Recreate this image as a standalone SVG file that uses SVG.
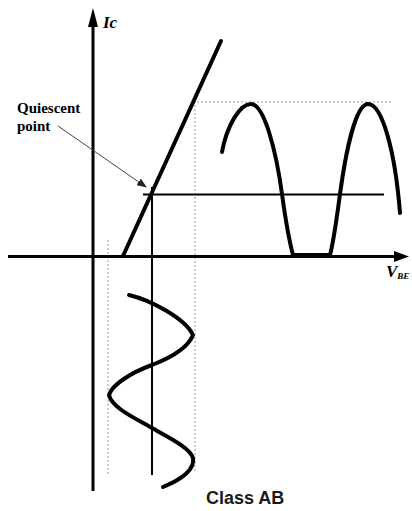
<svg xmlns="http://www.w3.org/2000/svg" width="412" height="511" viewBox="0 0 412 511">
<style>
.ax{stroke:#000;stroke-width:3;fill:none}
.thick{stroke:#000;stroke-width:4;fill:none;stroke-linecap:round;stroke-linejoin:round}
.thin{stroke:#000;stroke-width:2;fill:none}
.dot{stroke:#999;stroke-width:1;stroke-dasharray:2 2;fill:none}
.lbl{font-family:"Liberation Serif",serif;font-weight:bold;fill:#000}
.it{font-style:italic}
</style>
<defs>
<marker id="ah" markerWidth="10" markerHeight="8" refX="9" refY="4" orient="auto" markerUnits="userSpaceOnUse">
<path d="M0,0 L10,4 L0,8 Z" fill="#222"/>
</marker>
</defs>
<rect width="412" height="511" fill="#fff"/>
<g id="guides">
<line class="dot" x1="193" y1="102" x2="393" y2="102"/>
<line class="dot" x1="195" y1="93" x2="195" y2="472"/>
<line class="dot" x1="108" y1="240" x2="108" y2="475"/>
</g>
<g id="axes">
<line class="ax" x1="93" y1="24" x2="93" y2="491"/>
<path d="M93,8 L98,27 L88,27 Z" fill="#000"/>
<line class="ax" x1="8" y1="256.5" x2="396" y2="256.5"/>
<path d="M409,256.5 L394,251 L394,262 Z" fill="#000"/>
<text id="ic" class="lbl it" x="103" y="28" font-size="17">Ic</text>
<text id="vbe" class="lbl it" x="386" y="277" font-size="17">V<tspan font-size="9" dy="2">BE</tspan></text>
</g>
<g id="load-line">
<line class="thick" x1="123" y1="256" x2="221" y2="41" stroke-linecap="butt"/>
</g>
<g id="quiescent">
<line class="thin" x1="143" y1="194.5" x2="384" y2="194.5"/>
<line class="thin" x1="152" y1="187" x2="152" y2="475"/>
<text class="lbl" x="17" y="113" font-size="15">Quiescent</text>
<text class="lbl" x="17" y="131" font-size="15">point</text>
</g>
<g id="connectors">
<line x1="58" y1="126" x2="146" y2="187" stroke="#444" stroke-width="1" marker-end="url(#ah)"/>
</g>
<g id="output-wave">
<path class="thick" d="M222,152 C227,125 240,104 251,104 C264,104 276,150 282,194 C285,216 289,240 293,255 L330,255 C334,240 337,216 340,194 C346,150 356,104 368,104 C382,104 395,150 400,213"/>
</g>
<g id="input-wave">
<path class="thick" d="M129,295 C150,300 185,318 193,335 C188,348 170,358 152,365 C130,373 112,385 109,395 C112,408 135,418 152,428 C170,438 190,448 193,458 C195,470 180,480 163,487"/>
</g>
<g id="title">
<text x="206" y="504" font-family="'Liberation Sans',Arial,sans-serif" font-weight="bold" font-size="18" fill="#1a1a1a">Class AB</text>
</g>
</svg>
